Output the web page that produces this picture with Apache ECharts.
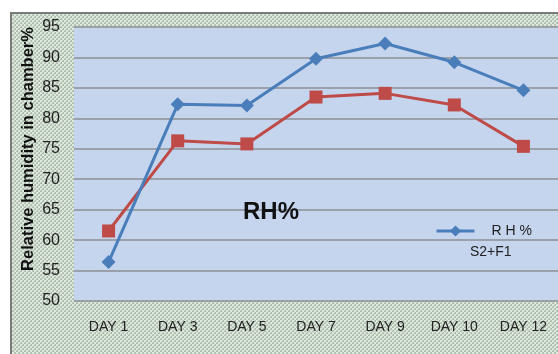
<!DOCTYPE html>
<html>
<head>
<meta charset="utf-8">
<script src="https://cdn.jsdelivr.net/npm/echarts@6/dist/echarts.min.js"></script>
<style>
  html, body { margin: 0; padding: 0; background: #ffffff; }
  #chart { width: 558px; height: 354px; }
</style>
</head>
<body>
<div id="chart"></div>
<script>
// Relative humidity readings per sampling day
const days = ['DAY 1', 'DAY 3', 'DAY 5', 'DAY 7', 'DAY 9', 'DAY 10', 'DAY 12'];
const rhValues = [56.4, 82.3, 82.1, 89.8, 92.3, 89.2, 84.6];
const s2f1Values = [61.5, 76.3, 75.8, 83.5, 84.1, 82.2, 75.4];
const yTicks = { min: 50, max: 95, step: 5 };

// Small repeating canvas tile for the textured chart frame
function makeTile() {
  const c = document.createElement('canvas');
  c.width = 4; c.height = 4;
  const g = c.getContext('2d');
  g.fillStyle = '#adbcac';
  g.fillRect(0, 0, 4, 4);
  g.fillStyle = '#dde8dc';
  g.fillRect(0, 0, 2, 2);
  g.fillRect(2, 2, 2, 2);
  g.fillStyle = '#c8d5c7';
  g.fillRect(2, 0, 1, 1);
  g.fillRect(0, 2, 1, 1);
  return c;
}

const chart = echarts.init(document.getElementById('chart'), null, { renderer: 'canvas' });
const font = '"Liberation Sans", "DejaVu Sans", sans-serif';

chart.setOption({
  animation: false,
  backgroundColor: '#ffffff',
  graphic: [
    {
      type: 'rect',
      z: -10,
      silent: true,
      shape: { x: 11, y: 13, width: 560, height: 360 },
      style: {
        fill: { image: makeTile(), repeat: 'repeat' },
        stroke: '#7a7a7a',
        lineWidth: 2
      }
    },
    {
      type: 'text',
      left: 243,
      top: 200,
      z: 10,
      style: {
        text: 'RH%',
        font: 'bold 24px ' + font,
        fill: '#111111'
      }
    },
    {
      // vertical axis title
      type: 'text',
      x: 28,
      y: 149,
      rotation: Math.PI / 2,
      z: 10,
      style: {
        text: 'Relative humidity in chamber%',
        font: 'bold 16.5px ' + font,
        fill: '#111111',
        align: 'center',
        verticalAlign: 'middle'
      }
    }
  ],
  grid: {
    left: 74,
    top: 27,
    width: 487,
    bottom: 53,
    show: true,
    backgroundColor: '#c6d5ee',
    borderWidth: 0,
    containLabel: false
  },
  legend: [
    {
      data: [{ name: 'R H %' }],
      left: 430,
      top: 219,
      itemWidth: 38,
      itemHeight: 14,
      itemGap: 10,
      lineStyle: { width: 3 },
      textStyle: { fontFamily: font, fontSize: 14, color: '#222', padding: [0, 0, 0, 12] }
    },
    {
      data: [{ name: 'S2+F1', icon: 'none' }],
      left: 460,
      top: 240,
      itemWidth: 0,
      itemHeight: 0,
      textStyle: { fontFamily: font, fontSize: 14, color: '#222' }
    }
  ],
  xAxis: {
    type: 'category',
    data: days,
    boundaryGap: true,
    axisLine: { show: false },
    axisTick: { show: false },
    axisLabel: {
      margin: 19,
      fontFamily: font,
      fontSize: 14,
      color: '#222'
    }
  },
  yAxis: {
    type: 'value',
    min: yTicks.min,
    max: yTicks.max,
    interval: yTicks.step,
    axisLine: { show: false },
    axisTick: { show: false },
    axisLabel: {
      margin: 14,
      fontFamily: font,
      fontSize: 16,
      color: '#222'
    },
    splitLine: { show: true, lineStyle: { color: '#8c8f94', width: 1.5 } }
  },
  series: [
    {
      name: 'R H %',
      type: 'line',
      data: rhValues,
      symbol: 'diamond',
      symbolSize: 14,
      lineStyle: { color: '#4a7ebb', width: 3 },
      itemStyle: { color: '#4a7ebb' },
      z: 3
    },
    {
      name: 'S2+F1',
      type: 'line',
      data: s2f1Values,
      symbol: 'rect',
      symbolSize: 13,
      lineStyle: { color: '#be4b48', width: 3 },
      itemStyle: { color: '#be4b48' },
      z: 2
    }
  ]
});
</script>
</body>
</html>
